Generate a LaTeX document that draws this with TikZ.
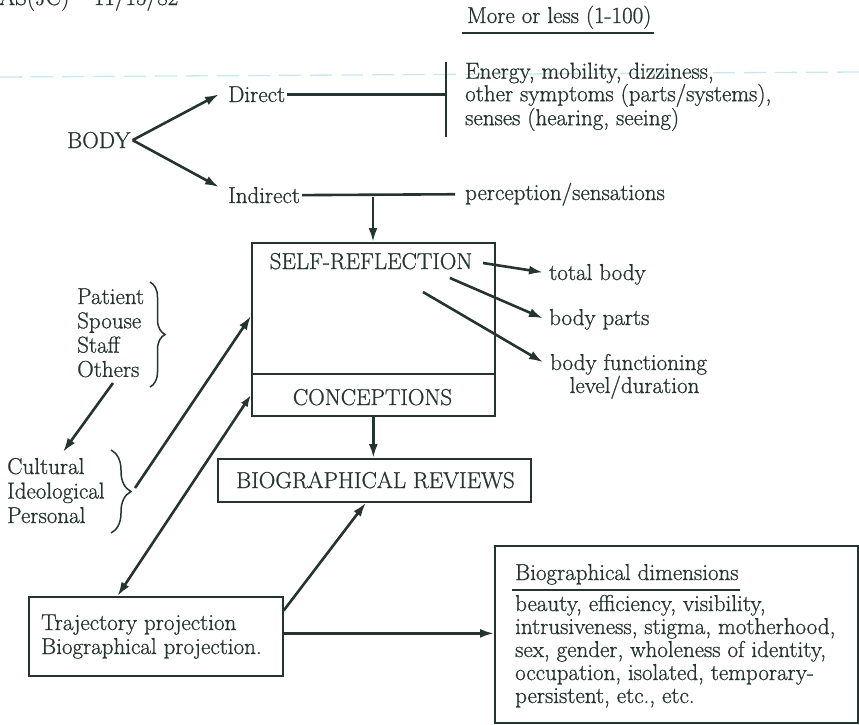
\documentclass[tikz,border=0pt]{standalone}
\usepackage{fontspec}
\setmainfont{Latin Modern Roman}[FakeBold=0.9]
\usetikzlibrary{arrows.meta,decorations.pathreplacing,calc}
\definecolor{ink}{RGB}{38,52,49}
\definecolor{ruling}{RGB}{175,222,234}
\begin{document}
\begin{tikzpicture}[x=1pt,y=-1pt,
  every node/.style={text=ink,font=\fontsize{23}{23.3}\selectfont},
  lbl/.style={inner sep=0pt,anchor=base west},
  clbl/.style={inner sep=0pt,anchor=base},
  multi/.style={inner sep=0pt,anchor=base west,align=left,font=\fontsize{23}{#1}\selectfont},
  boxnode/.style={draw=ink,line width=1.7pt,inner sep=0pt,anchor=north west},
  conn/.style={draw=ink,line width=2.6pt},
  arr/.style={conn,-{Latex[length=14pt,width=9pt]}},
  darr/.style={conn,{Latex[length=12pt,width=8pt]}-{Latex[length=14pt,width=9pt]}},
  uline/.style={draw=ink,line width=1.6pt},
  bracket/.style={draw=ink,line width=1.5pt,decorate,decoration={brace,amplitude=#1}},
]
\useasboundingbox (0,0) rectangle (859,724);

% faint ruling of the sheet
\draw[ruling,line width=1.3pt,dash pattern=on 22pt off 9pt,opacity=0.7] (0,77) -- (859,72);

% header (multi-line nodes below are placed by the baseline of their last line)
\node[lbl] (hdr) at (-1,5) {AS(JC) -- 11/15/82};
\node[lbl] (more) at (467,23) {More or less (1-100)};
\draw[uline] ([shift={(-5,4)}]more.south west) -- ([shift={(2,4)}]more.south east);

% body branches
\node[lbl] (body) at (67,148) {BODY};
\node[lbl] (direct) at (228,102) {Direct};
\node[lbl] (indirect) at (228,203) {Indirect};
\coordinate (bartop) at (446,62);
\coordinate (barbot) at (446,137);
\node[multi=22.6] (energy) at (465,125.2) {Energy, mobility, dizziness,\\other symptoms (parts/systems),\\senses (hearing, seeing)};
\node[lbl] (percep) at (465,200) {perception/sensations};

\draw[arr] ([xshift=2pt]body.east) -- ([xshift=-9pt]direct.west);
\draw[arr] ([xshift=2pt]body.east) -- ([shift={(-9,-8)}]indirect.west);
\draw[conn] ([xshift=2pt]direct.east) -- (direct.east -| bartop);
\draw[conn] (bartop) -- (barbot);
\draw[conn] ([xshift=2pt]indirect.east) -- ([xshift=-10pt]percep.west);

% self-reflection / conceptions
\node[boxnode,minimum width=243pt,minimum height=131pt] (selfbox) at (251,242) {};
\node[boxnode,minimum width=243pt,minimum height=42pt] (concbox) at (251,373) {};
\node[clbl] (selflbl) at (371,269) {SELF-REFLECTION};
\node[clbl] (conclbl) at (372.5,405) {CONCEPTIONS};
\coordinate (tap) at (373,197);
\draw[arr] (tap) -- (tap |- selfbox.north);

\node[lbl] (tb) at (549,280) {total body};
\node[lbl] (bp) at (549,325) {body parts};
\node[lbl] (bf) at (550,370) {body functioning};
\node[clbl] (bfl) at (634.5,393) {level/duration};
\coordinate (s1) at (483,263);
\coordinate (s2) at (450,278);
\coordinate (s3) at (423,292);
\draw[arr] (s1) -- ([shift={(-6,-2)}]tb.west);
\draw[arr] (s2) -- ([shift={(-6,-1)}]bp.west);
\draw[arr] (s3) -- ([shift={(-7,-2)}]bf.west);

% biographical reviews
\node[boxnode,minimum width=313pt,minimum height=43pt] (brbox) at (217,458) {};
\node[clbl] (brlbl) at (375.5,488) {BIOGRAPHICAL REVIEWS};
\draw[arr] (concbox.south) -- (concbox.south |- brbox.north);

% definers and frames
\node[multi=24.3] (pso) at (77,376.9) {Patient\\Spouse\\Staff\\Others};
\draw[bracket=15pt] (150,282) -- (150,387);
\node[multi=24.5] (cip) at (7,523) {Cultural\\Ideological\\Personal};
\draw[bracket=20pt] (111,450) -- (111,533);
\coordinate (o1) at (113,383);
\coordinate (c1) at (63,452);
\draw[arr] (o1) -- (c1);
\coordinate (ctip) at (135,488);
\draw[arr] (ctip) -- ($(selfbox.north west)!0.557!(selfbox.south west)$);

% projections
\node[boxnode,minimum width=254pt,minimum height=79pt] (traj) at (28,596) {};
\node[multi=24] (trajlbl) at (41,654) {Trajectory projection\\Biographical projection.};
\draw[darr] (concbox.west) -- ($(traj.north west)!0.35!(traj.north east)$);
\draw[arr] ($(traj.north east)!0.18!(traj.south east)$) -- ($(brbox.south west)!0.473!(brbox.south east)$);

% biographical dimensions
\node[boxnode,minimum width=363pt,minimum height=177pt] (dims) at (494,545) {};
\node[lbl] (dimshd) at (515,580) {Biographical dimensions};
\draw[uline] ([shift={(-3,5)}]dimshd.south west) -- ([shift={(1,5)}]dimshd.south east);
\node[multi=23] (dimslist) at (515,703) {beauty, efficiency, visibility,\\intrusiveness, stigma, motherhood,\\sex, gender, wholeness of identity,\\occupation, isolated, temporary-\\persistent, etc., etc.};
\draw[arr] ([yshift=3pt]traj.east) -- ([yshift=3pt]traj.east -| dims.west);
\end{tikzpicture}
\end{document}
